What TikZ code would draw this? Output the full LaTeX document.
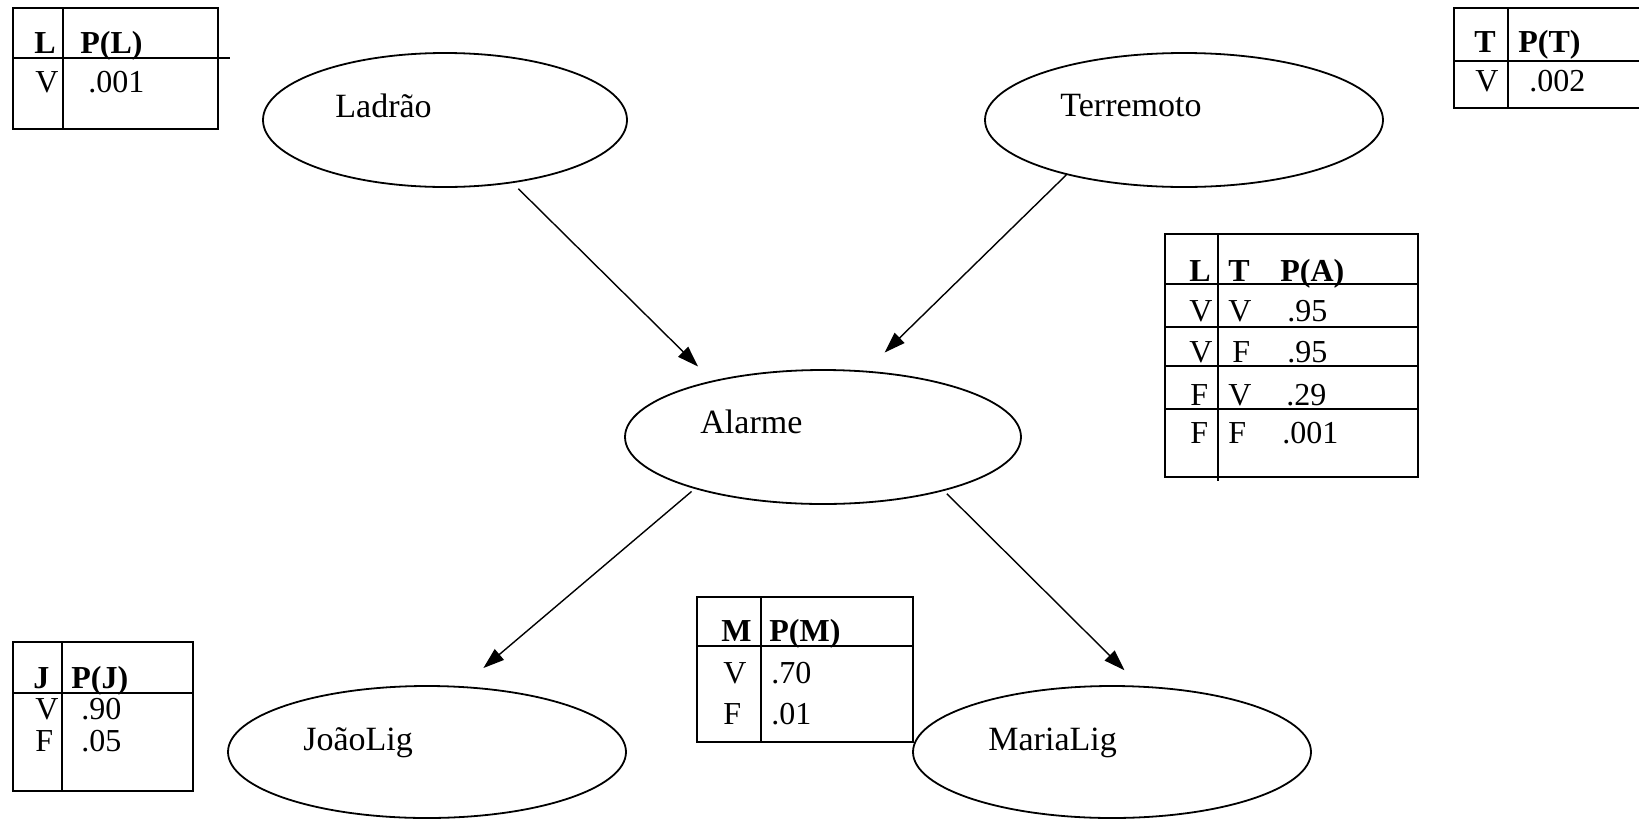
\documentclass[tikz,border=0pt]{standalone}
\usepackage{fontspec}
\setmainfont{Liberation Serif}
\usetikzlibrary{shapes.geometric,arrows.meta}
\tikzset{
  ell/.style={ellipse, draw, line width=0.9pt, inner sep=0pt},
  lbl/.style={anchor=base west, inner sep=0pt, font=\fontsize{17}{20}\selectfont},
  tb/.style={anchor=base west, inner sep=0pt, font=\fontsize{16}{19}\selectfont},
  tbb/.style={anchor=base west, inner sep=0pt, font=\fontsize{16}{19}\selectfont\bfseries},
  grid/.style={line width=0.9pt},
  arr/.style={-{Triangle[length=10.5pt,width=7pt]}, line width=0.7pt},
}
\begin{document}
\begin{tikzpicture}[x=0.5pt,y=-0.5pt]
\fill[white] (0,0) rectangle (1639,820);
\useasboundingbox (0,0) rectangle (1639,820);

% nodes (ellipses)
\node[ell, minimum width=182pt, minimum height=67pt] (lad) at (445,120) {};
\node[ell, minimum width=199pt, minimum height=67pt] (ter) at (1184,120) {};
\node[ell, minimum width=198pt, minimum height=67pt] (ala) at (823,437) {};
\node[ell, minimum width=199pt, minimum height=66pt] (joa) at (427,752) {};
\node[ell, minimum width=199pt, minimum height=66pt] (mar) at (1112,752) {};

\node[lbl] (ladt) at (335,117) {Ladrão};
\node[lbl] (tert) at (1060,116) {Terremoto};
\node[lbl] (alat) at (700,433) {Alarme};
\node[lbl] (joat) at (303,750) {JoãoLig};
\node[lbl] (mart) at (988,750) {MariaLig};

% connectors
\draw[arr, shorten <=4pt, shorten >=10pt] (lad.-43) -- (ala.153);
\draw[arr, shorten >=13pt] (ter.205) -- (ala.57);
\draw[arr, shorten <=2pt, shorten >=14pt] (ala.202) -- (joa.62);
\draw[arr, shorten <=2pt, shorten >=11pt] (ala.-24) -- (mar.67);

% table L
\draw[grid] (13,8) rectangle (218,129);
\draw[grid] (63,8) -- (63,129);
\draw[grid] (13,58) -- (230,58);
\node[tbb] (l1) at (34,53) {L};
\node[tbb] (l2) at (80,53) {P(L)};
\node[tb] (l3) at (35,92) {V};
\node[tb] (l4) at (88,92) {.001};

% table T
\draw[grid] (1454,8) rectangle (1646,108);
\draw[grid] (1508,8) -- (1508,108);
\draw[grid] (1454,61) -- (1646,61);
\node[tbb] (t1) at (1474,52) {T};
\node[tbb] (t2) at (1518,52) {P(T)};
\node[tb] (t3) at (1475,91) {V};
\node[tb] (t4) at (1529,91) {.002};

% table A
\draw[grid] (1165,234) rectangle (1418,477);
\draw[grid] (1218,234) -- (1218,481);
\foreach \yy in {284,327,366,409} \draw[grid] (1165,\yy) -- (1418,\yy);
\node[tbb] (a1) at (1189,281) {L};
\node[tbb] (a2) at (1228,281) {T};
\node[tbb] (a3) at (1280,281) {P(A)};
\node[tb] (a4) at (1189,321) {V};
\node[tb] (a5) at (1228,321) {V};
\node[tb] (a6) at (1287,321) {.95};
\node[tb] (a7) at (1189,362) {V};
\node[tb] (a8) at (1232,362) {F};
\node[tb] (a9) at (1287,362) {.95};
\node[tb] (a10) at (1190,405) {F};
\node[tb] (a11) at (1228,405) {V};
\node[tb] (a12) at (1286,405) {.29};
\node[tb] (a13) at (1190,443) {F};
\node[tb] (a14) at (1228,443) {F};
\node[tb] (a15) at (1282,443) {.001};

% table J
\draw[grid] (13,642) rectangle (193,791);
\draw[grid] (62,642) -- (62,791);
\draw[grid] (13,693) -- (193,693);
\node[tbb] (j1) at (33,688) {J};
\node[tbb] (j2) at (71,688) {P(J)};
\node[tb] (j3) at (35,719) {V};
\node[tb] (j4) at (81,719) {.90};
\node[tb] (j5) at (35,751) {F};
\node[tb] (j6) at (81,751) {.05};

% table M
\draw[grid] (697,597) rectangle (913,742);
\draw[grid] (761,597) -- (761,742);
\draw[grid] (697,646) -- (913,646);
\node[tbb] (m1) at (721,641) {M};
\node[tbb] (m2) at (769,641) {P(M)};
\node[tb] (m3) at (723,683) {V};
\node[tb] (m4) at (771,683) {.70};
\node[tb] (m5) at (723,724) {F};
\node[tb] (m6) at (771,724) {.01};
\end{tikzpicture}
\end{document}
